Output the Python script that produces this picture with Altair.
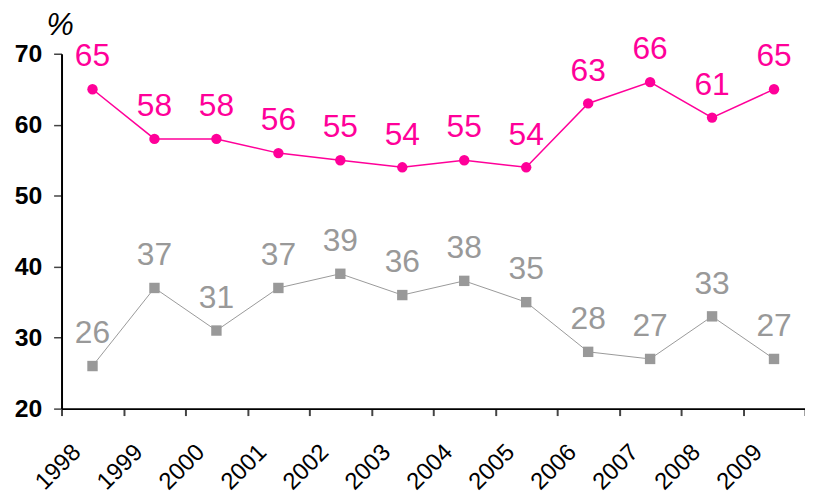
import altair as alt
import pandas as pd

years = ["1998", "1999", "2000", "2001", "2002", "2003", "2004", "2005", "2006", "2007", "2008", "2009"]
pink_values = [65, 58, 58, 56, 55, 54, 55, 54, 63, 66, 61, 65]
gray_values = [26, 37, 31, 37, 39, 36, 38, 35, 28, 27, 33, 27]

PINK = "#FF0099"
GRAY = "#999999"
FONT = "Liberation Sans"

df = pd.DataFrame({
    "year": years * 2,
    "value": pink_values + gray_values,
    "series": ["pink"] * len(years) + ["gray"] * len(years),
})

x = alt.X(
    "year:N",
    sort=years,
    bandPosition=0.5,
    scale=alt.Scale(type="band", paddingInner=0, paddingOuter=0),
    axis=alt.Axis(
        title=None,
        labelAngle=-45,
        labelAlign="right",
        labelBaseline="middle",
        labelFont=FONT,
        labelFontSize=24,
        labelColor="#000000",
        labelOffset=-16,
        labelPadding=33,
        tickBand="extent",
        tickSize=7,
        tickColor="#444444",
        tickWidth=2,
        domainColor="#000000",
        domainWidth=2,
        grid=False,
    ),
)
y = alt.Y(
    "value:Q",
    scale=alt.Scale(domain=[20, 70], nice=False, zero=False),
    axis=alt.Axis(
        values=[20, 30, 40, 50, 60, 70],
        title="%",
        titleAngle=0,
        titleX=-2,
        titleY=-19,
        titleAlign="center",
        titleBaseline="alphabetic",
        titleFont=FONT,
        titleFontSize=31,
        titleFontStyle="italic",
        titleFontWeight="normal",
        titleColor="#000000",
        labelFont=FONT,
        labelFontSize=25,
        labelFontWeight="bold",
        labelColor="#000000",
        labelPadding=12,
        tickSize=8,
        tickColor="#444444",
        tickWidth=1.5,
        domainColor="#000000",
        domainWidth=2,
        grid=False,
    ),
)

base = alt.Chart(df)

pink = base.transform_filter(alt.datum.series == "pink")
gray = base.transform_filter(alt.datum.series == "gray")

pink_line = pink.mark_line(color=PINK, strokeWidth=1.5).encode(x=x, y=y)
pink_pts = pink.mark_point(shape="circle", filled=True, opacity=1, size=110, color=PINK).encode(x=x, y=y)
pink_txt = pink.mark_text(dy=-23, baseline="alphabetic", fontSize=32, font=FONT, color=PINK).encode(
    x=x, y=y, text="value:Q")

gray_line = gray.mark_line(color=GRAY, strokeWidth=1).encode(x=x, y=y)
gray_pts = gray.mark_point(shape="square", filled=True, opacity=1, size=110, color=GRAY).encode(x=x, y=y)
gray_txt = gray.mark_text(dy=-23, baseline="alphabetic", fontSize=32, font=FONT, color=GRAY).encode(
    x=x, y=y, text="value:Q")

chart = alt.layer(
    gray_line, gray_pts, gray_txt, pink_line, pink_pts, pink_txt
).properties(
    width=750,
    height=358,
    padding={"left": 54, "top": 44, "right": 0, "bottom": 86},
    autosize=alt.AutoSizeParams(type="none"),
).configure_view(stroke=None)

chart.save("out.html", embed_options={"renderer": "svg", "actions": False})
